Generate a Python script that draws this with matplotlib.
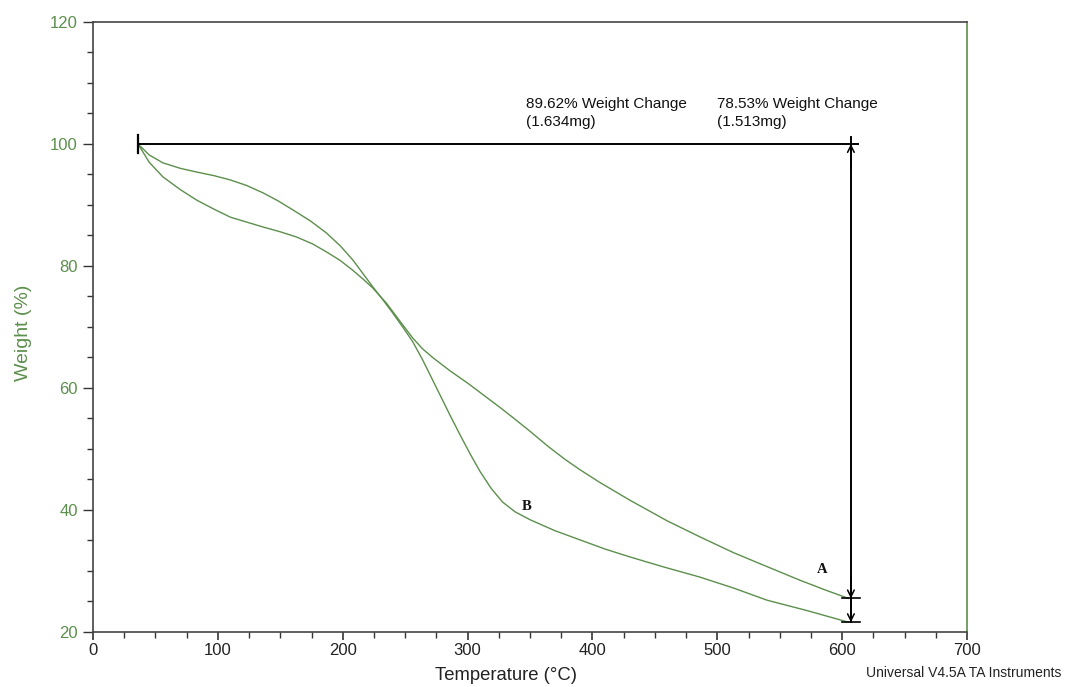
import matplotlib
matplotlib.use("Agg")
import matplotlib.pyplot as plt
from matplotlib.ticker import MultipleLocator

# --- data ---
temp_A = [36, 45, 56, 70, 83, 97, 110, 123, 136, 150, 163, 176, 187, 198, 208, 216, 224, 235, 246, 256,
          264, 272, 286, 300, 313, 326, 336, 350, 364, 378, 390, 406, 430, 460, 487, 513, 540, 566, 585, 605]
weight_A = [100, 97.0, 94.6, 92.5, 90.8, 89.3, 88.0, 87.2, 86.4, 85.6, 84.75, 83.6, 82.3, 80.9, 79.3, 77.9,
            76.4, 73.9, 70.9, 68.2, 66.4, 65.0, 62.8, 60.8, 58.8, 56.8, 55.2, 52.9, 50.5, 48.3, 46.6, 44.5,
            41.6, 38.2, 35.5, 33.0, 30.7, 28.5, 27.0, 25.5]
temp_B = [36, 45, 56, 70, 83, 97, 110, 123, 136, 148, 160, 174, 187, 198, 208, 216, 224, 232, 240, 248, 256,
          264, 272, 279, 286, 294, 302, 310, 319, 328, 338, 350, 370, 390, 410, 430, 458, 486, 513, 540, 572, 605]
weight_B = [100, 98.2, 96.9, 96.0, 95.4, 94.8, 94.1, 93.2, 92.0, 90.7, 89.2, 87.4, 85.4, 83.3, 81.0, 78.8,
            76.6, 74.5, 72.3, 70.0, 67.6, 64.6, 61.3, 58.4, 55.5, 52.3, 49.2, 46.3, 43.5, 41.3, 39.7, 38.4,
            36.6, 35.1, 33.6, 32.3, 30.6, 29.0, 27.2, 25.2, 23.5, 21.6]

start_T = 36
end_T = 607
residue_A = 25.5
residue_B = 21.6
label_A = "78.53% Weight Change\n(1.513mg)"
label_B = "89.62% Weight Change\n(1.634mg)"

green = "#5c8f4c"
dark = "#333333"
sans = ['Liberation Sans', 'DejaVu Sans']
serif = ['Liberation Serif', 'DejaVu Serif']

plt.rcParams['font.family'] = sans
fig = plt.figure(figsize=(10.67, 6.87), dpi=100)
ax = fig.add_axes([0.0872, 0.0801, 0.8191, 0.8879])

ax.plot(temp_A, weight_A, color=green, lw=1.0)
ax.plot(temp_B, weight_B, color=green, lw=1.0)

ax.set_xlim(0, 700)
ax.set_ylim(20, 120)
ax.xaxis.set_major_locator(MultipleLocator(100))
ax.xaxis.set_minor_locator(MultipleLocator(25))
ax.yaxis.set_major_locator(MultipleLocator(20))
ax.yaxis.set_minor_locator(MultipleLocator(5))

ax.tick_params(axis='x', which='major', direction='out', length=6, width=1.2, color=dark,
               labelsize=12, labelcolor='#222222', top=False, pad=2)
ax.tick_params(axis='x', which='minor', direction='out', length=4, width=1.0, color=dark, top=False)
ax.tick_params(axis='y', which='major', direction='out', length=7, width=1.0, color=dark,
               labelsize=12, labelcolor=green, right=False, pad=4)
ax.tick_params(axis='y', which='minor', direction='out', length=4, width=1.0, color=dark, right=False)

for s in ['left', 'bottom', 'top']:
    ax.spines[s].set_color('#444444')
    ax.spines[s].set_linewidth(1.2)
ax.spines['right'].set_color(green)
ax.spines['right'].set_linewidth(1.2)

ax.set_xlabel("Temperature (°C)", fontsize=13.3, color='#222222')
ax.xaxis.set_label_coords(0.473, -0.058)
ax.set_ylabel("Weight (%)", fontsize=14, color=green)
ax.yaxis.set_label_coords(-0.07, 0.49)

# annotation lines
ax.plot([start_T, end_T + 6], [100, 100], color='black', lw=1.4)
ax.plot([start_T, start_T], [98.6, 101.4], color='black', lw=1.6)
ax.plot([end_T, end_T], [100, residue_B], color='black', lw=1.4)
ax.plot([end_T, end_T], [101.2, 100], color='black', lw=1.4)
ax.plot([end_T - 7, end_T + 7], [residue_A, residue_A], color='black', lw=1.2)
ax.plot([end_T - 7, end_T + 7], [residue_B, residue_B], color='black', lw=1.2)
arrow = dict(arrowstyle='->', color='black', lw=1.1, mutation_scale=12, shrinkA=0, shrinkB=0)
ax.annotate('', xy=(end_T, 100), xytext=(end_T, 96), arrowprops=arrow)
ax.annotate('', xy=(end_T, residue_A), xytext=(end_T, residue_A + 3.5), arrowprops=arrow)
ax.annotate('', xy=(end_T, residue_B), xytext=(end_T, residue_B + 3.3), arrowprops=arrow)

ax.text(347, 107.7, label_B, fontsize=11, ha='left', va='top', color='#111111', linespacing=1.4)
ax.text(500, 107.7, label_A, fontsize=11, ha='left', va='top', color='#111111', linespacing=1.4)

ax.text(584, 30.2, "A", fontsize=10.5, fontweight='bold', family=serif,
        ha='center', va='center', color='#111111')
ax.text(347.5, 40.5, "B", fontsize=10.5, fontweight='bold', family=serif,
        ha='center', va='center', color='#111111')

fig.text(0.995, 0.02, "Universal V4.5A TA Instruments", fontsize=10, ha='right', va='center', color='#222222')

fig.savefig("out.png", dpi=100)
